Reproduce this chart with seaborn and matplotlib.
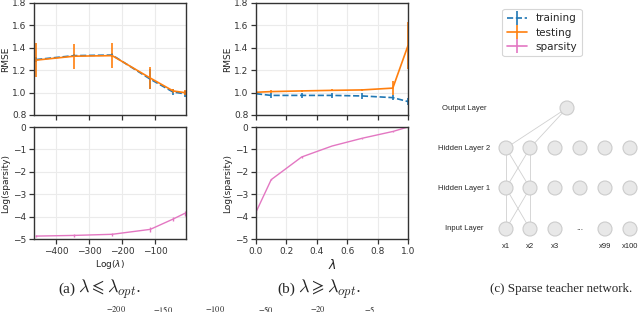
import matplotlib
matplotlib.use("Agg")
import matplotlib.pyplot as plt
from matplotlib.lines import Line2D
from matplotlib.patches import Circle
import seaborn as sns

# panel (a): lambda <= lambda_opt, x axis is log(lambda), lambda = 10^-k
k_exp = ["200", "150", "100", "50", "20", "5"]
log_lam = [-460.5, -345.4, -230.3, -115.1, -46.1, -11.5]
train_a = [1.295, 1.33, 1.335, 1.12, 1.005, 0.99]
train_a_err = [0.02, 0.015, 0.015, 0.09, 0.025, 0.025]
test_a = [1.29, 1.325, 1.33, 1.13, 1.015, 1.0]
test_a_err = [0.155, 0.11, 0.11, 0.10, 0.02, 0.02]
spars_a = [-4.87, -4.84, -4.79, -4.57, -4.11, -3.86]
spars_a_err = [0.03, 0.05, 0.06, 0.1, 0.1, 0.1]

# panel (b): lambda >= lambda_opt
lam_b = [0.0, 0.1, 0.3, 0.5, 0.7, 0.9, 1.0]
train_b = [0.99, 0.975, 0.975, 0.975, 0.97, 0.955, 0.92]
train_b_err = [0.01, 0.025, 0.025, 0.025, 0.025, 0.025, 0.03]
test_b = [1.003, 1.009, 1.015, 1.02, 1.024, 1.04, 1.42]
test_b_err = [0.01, 0.01, 0.01, 0.01, 0.01, 0.06, 0.21]
spars_b = [-3.8, -2.35, -1.34, -0.85, -0.5, -0.2, 0.0]
spars_b_err = [0.02, 0.03, 0.03, 0.02, 0.02, 0.02, 0.01]

# panel (c): sparse teacher network
layer_names = ["Output Layer", "Hidden Layer 2", "Hidden Layer 1", "Input Layer"]
input_names = ["x1", "x2", "x3", "", "x99", "x100"]

c_train = "#1f77b4"
c_test = "#ff7f0e"
c_spars = "#e377c2"

sns.set_theme(style="whitegrid", rc={
    "axes.edgecolor": "#333333",
    "axes.linewidth": 1.0,
    "grid.color": "#ebebeb",
    "grid.linewidth": 0.8,
    "xtick.bottom": True,
    "ytick.left": True,
    "xtick.major.size": 3.5,
    "ytick.major.size": 3.5,
    "xtick.major.width": 0.9,
    "ytick.major.width": 0.9,
    "xtick.color": "#333333",
    "ytick.color": "#333333",
    "xtick.labelsize": 6.5,
    "ytick.labelsize": 6.5,
    "axes.labelsize": 6.5,
    "axes.labelcolor": "#222222",
    "axes.labelpad": 2,
    "xtick.major.pad": 2,
    "ytick.major.pad": 2,
})
plt.rcParams["font.family"] = ["DejaVu Sans"]

W, H = 640, 312
fig = plt.figure(figsize=(6.4, 3.12), dpi=100)


def box(x0, y0, x1, y1):
    return [x0 / W, 1 - y1 / H, (x1 - x0) / W, (y1 - y0) / H]


ax_a1 = fig.add_axes(box(34, 3, 186, 115))
ax_a2 = fig.add_axes(box(34, 127, 186, 239))
ax_b1 = fig.add_axes(box(256, 3, 408, 115))
ax_b2 = fig.add_axes(box(256, 127, 408, 239))

ebkw = dict(elinewidth=1.2, capsize=0, linewidth=1.2)

for ax, x, tr, tre, te, tee in [(ax_a1, log_lam, train_a, train_a_err, test_a, test_a_err),
                                (ax_b1, lam_b, train_b, train_b_err, test_b, test_b_err)]:
    ax.errorbar(x, tr, yerr=tre, fmt="--", color=c_train, **ebkw)
    ax.errorbar(x, te, yerr=tee, fmt="-", color=c_test, **ebkw)
    ax.set_ylim(0.8, 1.8)
    ax.set_yticks([0.8, 1.0, 1.2, 1.4, 1.6, 1.8])
    ax.set_ylabel("RMSE")
    ax.tick_params(labelbottom=False)

ax_a2.errorbar(log_lam, spars_a, yerr=spars_a_err, fmt="-", color=c_spars, elinewidth=1.0, linewidth=1.0)
ax_b2.errorbar(lam_b, spars_b, yerr=spars_b_err, fmt="-", color=c_spars, elinewidth=1.0, linewidth=1.0)
for ax in [ax_a2, ax_b2]:
    ax.set_ylim(-5, 0)
    ax.set_yticks([-5, -4, -3, -2, -1, 0])
    ax.set_ylabel("Log(sparsity)")

for ax in [ax_a1, ax_a2]:
    ax.set_xlim(-467, -7)
    ax.set_xticks([-400, -300, -200, -100])
for ax in [ax_b1, ax_b2]:
    ax.set_xlim(0, 1)
    ax.set_xticks([0, 0.2, 0.4, 0.6, 0.8, 1.0])
ax_a2.set_xlabel(r"Log($\lambda$)")
ax_b2.set_xlabel(r"$\lambda$", fontsize=9)

for ax in [ax_a1, ax_a2, ax_b1, ax_b2]:
    ax.yaxis.set_label_coords(-0.16, 0.5)

# legend in the third panel
def bar_handle(ls, color):
    return (Line2D([], [], ls=ls, color=color, lw=1.2),
            Line2D([], [], ls="none", marker="|", ms=10, mew=1.2, color=color))


handles = [bar_handle("--", c_train), bar_handle("-", c_test), bar_handle("-", c_spars)]
leg = fig.legend(handles, ["training", "testing", "sparsity"], loc="upper center",
                 bbox_to_anchor=(542 / W, 1 - 4 / H), fontsize=7.5, frameon=True,
                 handlelength=2.0, handletextpad=0.8, labelspacing=0.42, borderpad=0.4)
leg.get_frame().set_edgecolor("#cccccc")
leg.get_frame().set_linewidth(0.8)

# network diagram, drawn in pixel units
ax_c = fig.add_axes([430 / W, 0, 210 / W, 1])
ax_c.set_xlim(430, 640)
ax_c.set_ylim(H, 0)
ax_c.axis("off")

node_x = [506, 530, 555, 580, 605, 630]
layer_y = [108, 148, 188, 229]
out_x = 567
r = 7
edge_kw = dict(color="#d0d0d0", lw=0.6, zorder=1)

for x in node_x[:2]:
    ax_c.plot([out_x, x], [layer_y[0], layer_y[1]], **edge_kw)
for i in range(1, 3):
    for xa in node_x[:2]:
        for xb in node_x[:2]:
            ax_c.plot([xa, xb], [layer_y[i], layer_y[i + 1]], **edge_kw)

node_kw = dict(facecolor="#e8e8e8", edgecolor="#cccccc", lw=0.8, zorder=2)
ax_c.add_patch(Circle((out_x, layer_y[0]), r, **node_kw))
for yy in layer_y[1:3]:
    for x in node_x:
        ax_c.add_patch(Circle((x, yy), r, **node_kw))
for x, name in zip(node_x, input_names):
    if name:
        ax_c.add_patch(Circle((x, layer_y[3]), r, **node_kw))
        ax_c.text(x, 247, name, ha="center", va="center", fontsize=5.5, family="Liberation Sans")
    else:
        ax_c.text(x, layer_y[3] - 1, "...", ha="center", va="center", fontsize=6, family="Liberation Sans")

for name, yy in zip(layer_names, layer_y):
    ax_c.text(464, yy, name, ha="center", va="center", fontsize=5.5, family="Liberation Sans")

# captions
cap_y = 1 - 289 / H
lab_kw = dict(ha="right", va="center", fontsize=11, family="Liberation Serif")
math_kw = dict(ha="left", va="center", fontsize=13, math_fontfamily="cm")
fig.text(75 / W, cap_y, "(a)", **lab_kw)
fig.text(78 / W, cap_y, r"$\lambda \leqslant \lambda_{opt}.$", **math_kw)
fig.text(295 / W, cap_y, "(b)", **lab_kw)
fig.text(298 / W, cap_y, r"$\lambda \geqslant \lambda_{opt}.$", **math_kw)
fig.text(561 / W, cap_y, "(c) Sparse teacher network.", ha="center", va="center",
         fontsize=9.4, family="Liberation Serif")

# clipped tops of the next line of text
for xp, k in zip([116, 163, 215, 266, 318, 370], k_exp):
    fig.text(xp / W, 1 - 304 / H, r"$-%s$" % k, ha="center", va="top", fontsize=6,
             math_fontfamily="stix")

fig.savefig("out.png", dpi=100)
